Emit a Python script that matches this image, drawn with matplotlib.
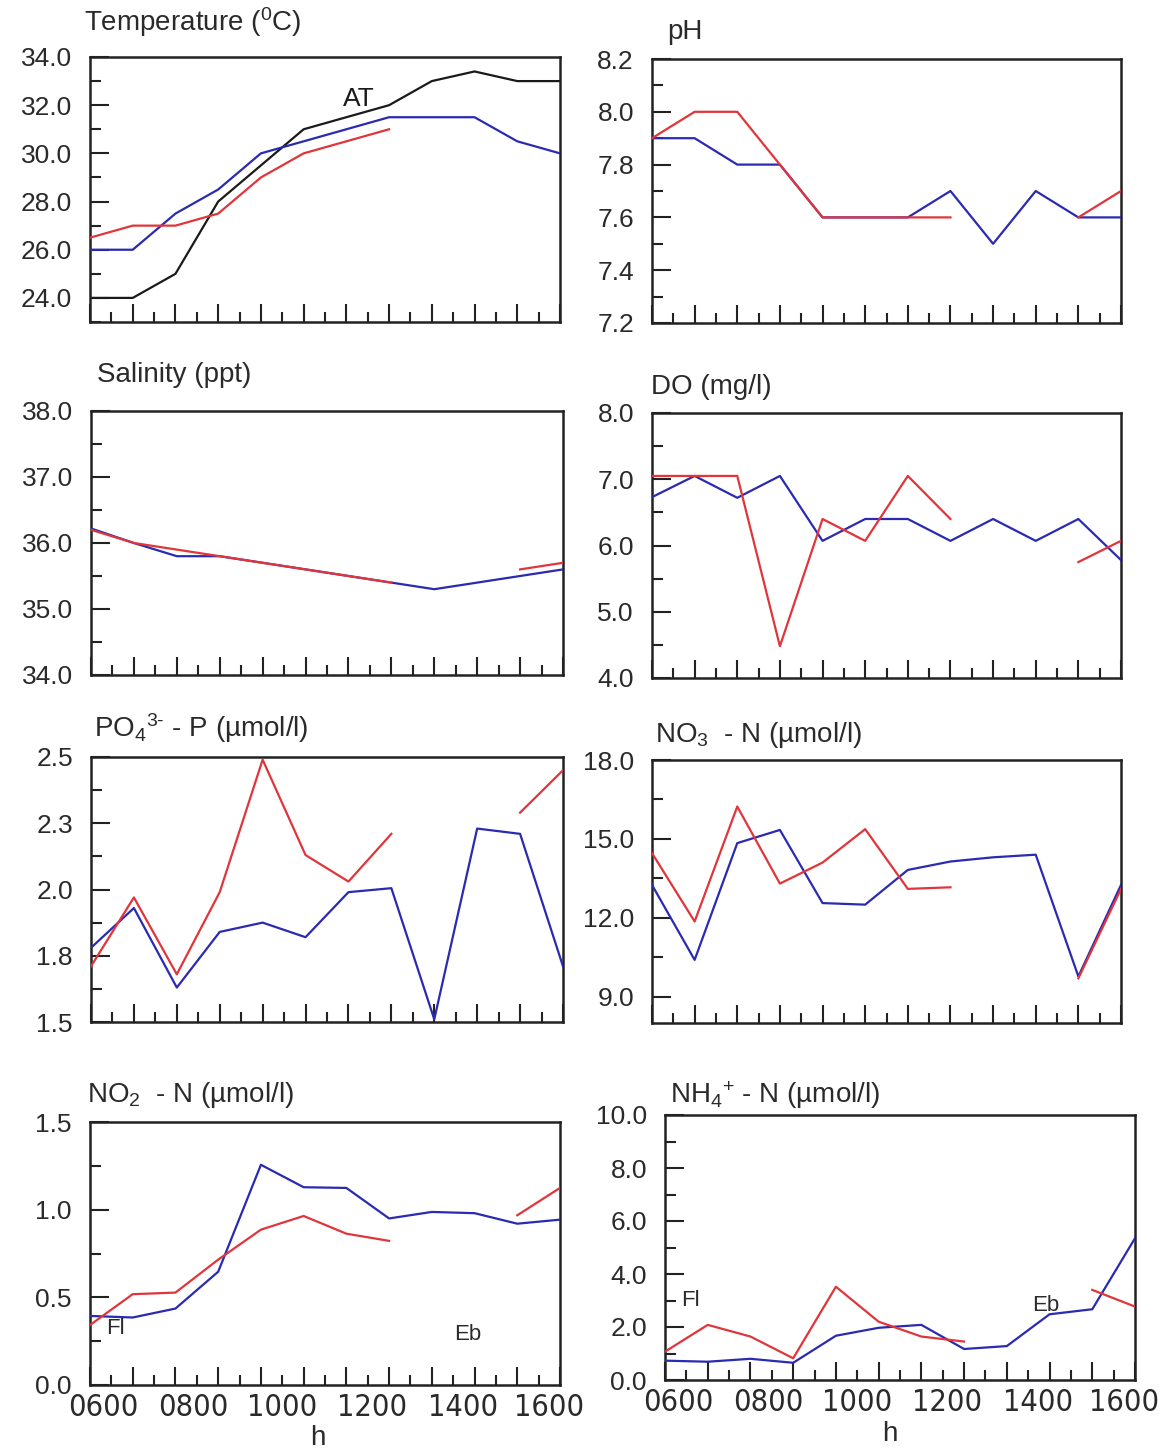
import numpy as np
import matplotlib
matplotlib.use('Agg')
import matplotlib.pyplot as plt
from matplotlib.ticker import MultipleLocator, FormatStrFormatter, FixedLocator, FixedFormatter
from matplotlib import font_manager
import matplotlib.transforms as mtrans

nan = np.nan

# ---------------- data ----------------
samples = list(range(12))
time_labels = ['0600', '0800', '1000', '1200', '1400', '1600']
time_label_pos = [0.3, 2.42, 4.5, 6.6, 8.72, 10.75]

temp_air = [24.0, 24.0, 25.0, 28.0, 29.5, 31.0, 31.5, 32.0, 33.0, 33.4, 33.0, 33.0]
temp_blue = [26.0, 26.0, 27.5, 28.5, 30.0, 30.5, 31.0, 31.5, 31.5, 31.5, 30.5, 30.0]
temp_red = [26.5, 27.0, 27.0, 27.5, 29.0, 30.0, 30.5, 31.0, nan, nan, nan, nan]

ph_blue = [7.9, 7.9, 7.8, 7.8, 7.6, 7.6, 7.6, 7.7, 7.5, 7.7, 7.6, 7.6]
ph_red = [7.9, 8.0, 8.0, 7.8, 7.6, 7.6, 7.6, 7.6, nan, nan, 7.6, 7.7]

sal_blue = [36.22, 36.0, 35.8, 35.8, 35.7, 35.6, 35.5, 35.4, 35.3, 35.4, 35.5, 35.6]
sal_red = [36.2, 36.0, 35.9, 35.8, 35.7, 35.6, 35.5, 35.4, nan, nan, 35.6, 35.7]

do_blue = [6.73, 7.05, 6.72, 7.05, 6.07, 6.4, 6.4, 6.07, 6.4, 6.07, 6.4, 5.78]
do_red = [7.05, 7.05, 7.05, 4.48, 6.4, 6.07, 7.05, 6.4, nan, nan, 5.75, 6.07]

po4_blue = [1.78, 1.93, 1.63, 1.84, 1.875, 1.82, 1.99, 2.005, 1.51, 2.23, 2.21, 1.71]
po4_red = [1.71, 1.97, 1.68, 1.99, 2.49, 2.13, 2.03, 2.21, nan, nan, 2.29, 2.45]
po4_ticks = [1.5, 1.75, 2.0, 2.25, 2.5]
po4_tick_labels = ['1.5', '1.8', '2.0', '2.3', '2.5']

no3_blue = [13.25, 10.4, 14.84, 15.34, 12.56, 12.5, 13.82, 14.14, 14.3, 14.4, 9.77, 13.25]
no3_red = [14.46, 11.86, 16.23, 13.3, 14.1, 15.37, 13.1, 13.16, nan, nan, 9.7, 13.1]
no3_ticks = [9.0, 12.0, 15.0, 18.0]

no2_blue = [0.394, 0.385, 0.436, 0.646, 1.256, 1.128, 1.124, 0.95, 0.987, 0.98, 0.92, 0.943]
no2_red = [0.342, 0.518, 0.527, 0.715, 0.886, 0.964, 0.863, 0.822, nan, nan, 0.968, 1.124]

nh4_blue = [0.73, 0.69, 0.8, 0.65, 1.67, 1.97, 2.08, 1.17, 1.28, 2.48, 2.67, 5.35]
nh4_red = [1.07, 2.08, 1.64, 0.82, 3.52, 2.2, 1.64, 1.45, nan, nan, 3.4, 2.77]

titles = ['Temperature ($^{0}$C)', 'pH', 'Salinity (ppt)', 'DO (mg/l)',
          'PO$_4$$^{3\\text{-}}$ - P (µmol/l)', 'NO$_3$  - N (µmol/l)',
          'NO$_2$  - N (µmol/l)', 'NH$_4$$^{+}$ - N (µmol/l)']

# ---------------- style ----------------
plt.rcParams['font.family'] = ['Liberation Sans', 'DejaVu Sans']
plt.rcParams['mathtext.fontset'] = 'custom'
plt.rcParams['mathtext.rm'] = 'Liberation Sans'
plt.rcParams['mathtext.it'] = 'Liberation Sans:italic'
plt.rcParams['mathtext.bf'] = 'Liberation Sans:bold'

# narrow font for the time labels, if one is installed
narrow_props = None
for fam, stretch in [('Liberation Sans Narrow', 'normal'), ('DejaVu Sans', 'condensed')]:
    try:
        fp = font_manager.FontProperties(family=fam, stretch=stretch)
        path = font_manager.findfont(fp, fallback_to_default=False)
        if ('Narrow' in path) or ('Condensed' in path):
            narrow_props = dict(family=fam, stretch=stretch)
            break
    except Exception:
        pass

BLUE = '#2a2ab2'
RED = '#e0353a'
BLACK = '#1a1a1a'
TXT = '#2a2a2a'
W, H = 1165, 1449

fig = plt.figure(figsize=(W / 100, H / 100), dpi=100)

# axes rects in pixels: left, top, right, bottom
rects = [(90, 57, 560, 322), (652, 59, 1121, 323),
         (91, 411, 563, 675), (652, 413, 1121, 678),
         (91, 757, 563, 1022), (652, 760, 1121, 1023),
         (90, 1122, 560, 1385), (665, 1115, 1135, 1380)]
title_pos = [(84, 22), (667, 32), (97, 375), (651, 387),
             (94, 728), (655, 735), (87, 1095), (670, 1095)]

series = [(temp_blue, temp_red), (ph_blue, ph_red), (sal_blue, sal_red),
          (do_blue, do_red), (po4_blue, po4_red), (no3_blue, no3_red),
          (no2_blue, no2_red), (nh4_blue, nh4_red)]
ylims = [(23, 34), (7.2, 8.2), (34, 38), (4, 8), (1.5, 2.5), (8, 18), (0, 1.5), (0, 10)]
majors = [2.0, 0.2, 1.0, 1.0, 0.25, 3.0, 0.5, 2.0]
minors = [1.0, 0.1, 0.5, 0.5, 0.125, 1.5, 0.25, 1.0]

axes = []
for i in range(8):
    l, t, r, b = rects[i]
    ax = fig.add_axes([l / W, 1 - b / H, (r - l) / W, (b - t) / H])
    axes.append(ax)
    blue, red = series[i]
    ax.plot(samples, blue, color=BLUE, lw=1.6, zorder=3)
    ax.plot(samples, red, color=RED, lw=1.6, zorder=4)
    if i == 0:
        ax.plot(samples, temp_air, color=BLACK, lw=1.6, zorder=2)
        ax.text(6.3, 32.25, 'AT', fontsize=19, ha='center', va='center', color=BLACK)
    ax.set_xlim(0, 11)
    ax.set_ylim(*ylims[i])
    ax.xaxis.set_major_locator(MultipleLocator(1))
    ax.xaxis.set_minor_locator(MultipleLocator(0.5))
    ax.yaxis.set_major_locator(MultipleLocator(majors[i]))
    ax.yaxis.set_minor_locator(MultipleLocator(minors[i]))
    ax.yaxis.set_major_formatter(FormatStrFormatter('%.1f'))
    if i == 4:
        ax.yaxis.set_major_locator(FixedLocator(po4_ticks))
        ax.yaxis.set_major_formatter(FixedFormatter(po4_tick_labels))
    if i == 5:
        ax.yaxis.set_major_locator(FixedLocator(no3_ticks))
    ax.tick_params(axis='both', which='both', direction='in', right=False, top=False,
                   colors='#222222', width=1.5)
    ax.tick_params(axis='y', which='major', length=14, labelsize=19, pad=13,
                   labelcolor=TXT)
    ax.tick_params(axis='y', which='minor', length=8)
    ax.tick_params(axis='x', which='major', length=13, labelbottom=False)
    ax.tick_params(axis='x', which='minor', length=7)
    for s in ax.spines.values():
        s.set_linewidth(1.8)
        s.set_color('#222222')
    tx, ty = title_pos[i]
    fig.text(tx / W, 1 - ty / H, titles[i], fontsize=20, ha='left', va='center',
             color=TXT)

# bottom x tick labels
for ax in axes[6:]:
    trans = mtrans.blended_transform_factory(ax.transData, ax.transAxes)
    for p, lab in zip(time_label_pos, time_labels):
        if narrow_props is not None:
            ax.text(p, -0.03, lab, transform=trans, ha='center', va='top', fontsize=22,
                    color=TXT, **narrow_props)
        else:
            ax.text(p, -0.03, lab, transform=trans, ha='center', va='top', fontsize=20,
                    color=TXT)

fig.text(318 / W, 1 - 1438 / H, 'h', fontsize=20, ha='center', va='center', color=TXT)
fig.text(890 / W, 1 - 1434 / H, 'h', fontsize=20, ha='center', va='center', color=TXT)

# tide annotations
axes[6].text(0.6, 0.32, 'Fl', fontsize=16, ha='center', va='center', color=TXT)
axes[6].text(8.85, 0.29, 'Eb', fontsize=16, ha='center', va='center', color=TXT)
axes[7].text(0.6, 3.0, 'Fl', fontsize=16, ha='center', va='center', color=TXT)
axes[7].text(8.9, 2.8, 'Eb', fontsize=16, ha='center', va='center', color=TXT)

fig.savefig('out.png', dpi=100, facecolor='white')
